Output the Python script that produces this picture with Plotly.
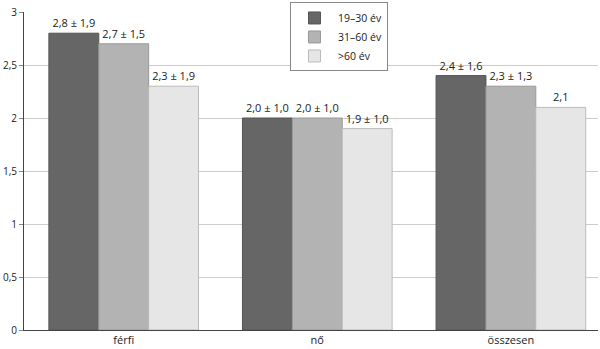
import plotly.graph_objects as go

categories = ["férfi", "nő", "összesen"]
series_names = ["19–30 év", "31–60 év", ">60 év"]
values = [
    [2.8, 2.0, 2.4],
    [2.7, 2.0, 2.3],
    [2.3, 1.9, 2.1],
]
labels = [
    ["2,8 ± 1,9", "2,0 ± 1,0", "2,4 ± 1,6"],
    ["2,7 ± 1,5", "2,0 ± 1,0", "2,3 ± 1,3"],
    ["2,3 ± 1,9", "1,9 ± 1,0", "2,1"],
]
y_ticks = [0, 0.5, 1, 1.5, 2, 2.5, 3]
y_tick_text = ["0", "0,5", "1", "1,5", "2", "2,5", "3"]

fills = ["#666666", "#b3b3b3", "#e6e6e6"]
borders = ["#555555", "#999999", "#bbbbbb"]

fig = go.Figure()
for i, name in enumerate(series_names):
    fig.add_trace(go.Bar(
        x=categories, y=values[i], name=name,
        text=labels[i], textposition="outside", cliponaxis=False,
        textfont=dict(size=11, color="#222222"),
        marker=dict(color=fills[i], line=dict(color=borders[i], width=1)),
    ))

fig.update_layout(
    width=600, height=349,
    margin=dict(l=24, r=2, t=10, b=19),
    paper_bgcolor="white", plot_bgcolor="white",
    barmode="group", bargap=0.227, bargroupgap=0,
    font=dict(family="Open Sans", size=11, color="#222222"),
    legend=dict(
        x=0.4634, y=1.03, xanchor="left", yanchor="top",
        bordercolor="#888888", borderwidth=1, bgcolor="white",
        font=dict(size=10.5), tracegroupgap=0, itemwidth=37,
    ),
    xaxis=dict(
        range=[-0.515, 2.45], showline=True, linecolor="#444444",
        ticks="", tickfont=dict(size=11), automargin=False,
    ),
    yaxis=dict(
        range=[0, 3], tickvals=y_ticks, ticktext=y_tick_text,
        showgrid=True, gridcolor="#cccccc", gridwidth=1,
        showline=True, linecolor="#444444", ticks="outside", ticklen=4,
        tickcolor="#888888", tickfont=dict(size=10), zeroline=False,
        automargin=False,
    ),
)

fig.write_html("out.html")
